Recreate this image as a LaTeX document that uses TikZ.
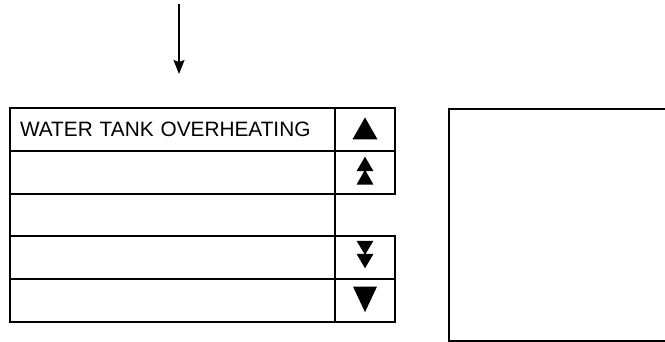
\documentclass[tikz,border=0pt]{standalone}
\usepackage{fontspec}
\setmainfont{Liberation Sans}
\usetikzlibrary{arrows.meta, positioning}

\begin{document}
\begin{tikzpicture}[
    x=1pt, y=-1pt,
    cell/.style={draw, line width=2pt, rectangle, minimum height=42.8pt, inner sep=0pt},
    lblcell/.style={cell, minimum width=325pt, text width=305pt, inner xsep=10pt, align=left, font=\fontsize{20.8}{25}\selectfont},
    icocell/.style={cell, minimum width=60pt},
    sym/.style={fill=black}
  ]
  \useasboundingbox (0,0) rectangle (665,341);

  % incoming signal
  \coordinate (feed) at (179,4);
  \coordinate (feedend) at (179,74);
  \draw[line width=1.2pt, -{Stealth[length=14pt, width=11pt, inset=2pt]}] (feed) -- (feedend);

  % alarm list
  \foreach \r/\txt in {1/WATER TANK OVERHEATING, 2/, 3/, 4/, 5/} {
    \node[lblcell] (lbl\r) at (172.5, {108+42.8*(\r-0.5)}) {\txt};
  }
  \foreach \r in {1,2,4,5} {
    \node[icocell] (ico\r) at (365, {108+42.8*(\r-0.5)}) {};
  }

  % scroll symbols
  \fill[sym, shift={(ico1.center)}] (0,-12) -- (12.5,10) -- (-12.5,10) -- cycle;
  \fill[sym, shift={(ico2.center)}] (0,-15.5) -- (8.5,-1) -- (-8.5,-1) -- cycle
    (0,-2.5) -- (8.5,12.5) -- (-8.5,12.5) -- cycle;
  \fill[sym, shift={(ico4.center)}] (-8.5,-17) -- (8.5,-17) -- (0,-3) -- cycle
    (-8.5,-4) -- (8.5,-4) -- (0,10.5) -- cycle;
  \fill[sym, shift={(ico5.center)}] (-12,-14) -- (12,-14) -- (0,11.5) -- cycle;

  % detail panel
  \node[draw, line width=2pt, minimum width=252pt, minimum height=232pt, anchor=north west] (panel) at (448,108) {};
\end{tikzpicture}
\end{document}
